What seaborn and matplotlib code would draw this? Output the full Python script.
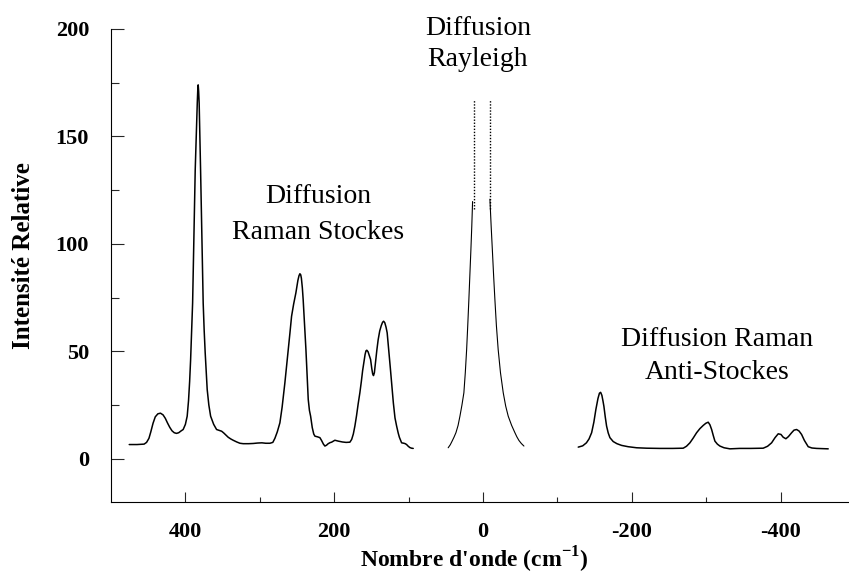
import matplotlib
matplotlib.use("Agg")
import matplotlib.pyplot as plt
import seaborn as sns
import pandas as pd
from matplotlib.ticker import FixedLocator

# ---------------- data ----------------
stokes_x = [475.5, 465.0, 455.5, 452.2, 449.0, 446.5, 443.5, 440.5, 437.0, 433.5,
            430.0, 427.0, 424.0, 421.0, 418.0, 415.0, 412.0, 409.0, 406.0, 403.0,
            400.0, 397.6, 395.8, 394.3, 393.0, 391.6, 390.3, 389.4, 388.6, 387.7,
            386.8, 385.8, 384.9, 384.0, 383.2, 382.8, 382.2, 381.5, 380.5, 379.6,
            378.7, 377.8, 377.0, 376.1, 374.8, 373.4, 372.0, 370.7, 368.5, 366.1,
            362.0, 358.1, 354.5, 351.3, 348.5, 345.5, 342.5, 339.0, 335.8, 331.0,
            326.7, 322.3, 315.0, 308.9, 303.0, 297.2, 292.0, 286.4, 282.5, 279.7,
            276.5, 273.0, 270.0, 266.3, 264.0, 261.8, 259.5, 257.3, 254.5, 251.5,
            248.8, 247.3, 246.1, 245.0, 244.1, 242.8, 241.7, 239.8, 238.0, 236.4,
            234.9, 233.3, 231.7, 229.5, 227.5, 225.9, 222.5, 219.2, 217.0, 214.5,
            212.5, 210.3, 208.1, 205.5, 203.5, 199.1, 194.6, 189.0, 184.0, 178.9,
            176.5, 174.3, 172.2, 170.0, 167.8, 165.5, 163.5, 161.8, 160.1, 158.5,
            157.3, 156.2, 154.5, 152.8, 151.1, 149.5, 148.3, 147.2, 146.0, 144.4,
            142.7, 140.9, 138.8, 136.7, 135.0, 133.6, 132.0, 130.3, 128.8, 126.5,
            124.5, 122.8, 120.5, 118.3, 116.1, 114.0, 112.4, 110.5, 109.4, 106.3,
            104.5, 102.7, 100.5, 98.3, 96.0, 93.8]
stokes_y = [6.6, 6.6, 6.8, 7.6, 9.5, 12.5, 16.5, 19.5, 20.9, 21.2,
            20.4, 18.8, 16.6, 14.6, 13.0, 12.1, 11.8, 12.1, 12.9, 13.6,
            16.0, 19.8, 27.0, 36.0, 46.0, 60.0, 72.5, 88.0, 103.5, 119.0,
            134.5, 146.0, 157.7, 166.0, 173.2, 174.0, 171.0, 165.5, 150.0, 134.5,
            119.0, 103.5, 88.0, 72.5, 60.0, 49.3, 40.0, 32.2, 25.0, 19.8,
            16.0, 13.6, 13.2, 12.8, 12.0, 11.0, 10.0, 9.2, 8.6, 7.8,
            7.2, 7.0, 7.0, 7.1, 7.3, 7.4, 7.2, 7.2, 7.6, 9.5,
            12.5, 16.7, 24.0, 35.3, 43.0, 50.8, 58.5, 66.3, 72.0, 77.2,
            83.0, 85.2, 86.1, 85.6, 84.0, 79.5, 74.0, 62.0, 50.8, 39.0,
            27.6, 22.5, 19.8, 14.5, 11.5, 10.5, 10.2, 9.8, 8.5, 6.8,
            5.9, 6.3, 7.0, 7.5, 7.7, 8.6, 8.2, 7.8, 7.6, 7.7,
            9.0, 11.5, 15.2, 20.0, 25.5, 30.7, 36.0, 41.0, 45.0, 48.5,
            50.2, 50.5, 49.8, 48.0, 46.2, 42.0, 39.5, 38.7, 40.0, 45.0,
            50.5, 55.4, 59.5, 62.0, 63.5, 64.0, 63.3, 61.2, 58.6, 50.0,
            42.0, 35.3, 26.0, 19.0, 15.2, 12.0, 10.0, 8.3, 7.4, 7.2,
            7.0, 6.6, 5.8, 5.2, 4.9, 4.8]

rayleigh_left_x = [46.8, 44.0, 41.8, 39.0, 36.4, 33.5, 31.0, 28.3, 25.7, 23.8,
                   22.0, 20.5, 19.0, 17.6, 16.3, 15.1, 14.0]
rayleigh_left_y = [5.1, 6.5, 8.0, 10.0, 12.1, 15.5, 19.8, 25.0, 30.7, 40.0,
                   50.8, 62.0, 74.0, 86.0, 97.0, 108.0, 119.7]
rayleigh_right_x = [-9.3, -11.0, -12.6, -14.3, -16.0, -18.0, -20.4, -23.5, -27.2,
                    -30.5, -33.9, -38.5, -42.9, -45.5, -48.3, -51.5, -55.0]
rayleigh_right_y = [120.8, 108.0, 97.0, 85.0, 74.0, 62.0, 50.8, 40.0, 30.7,
                    24.5, 19.8, 15.5, 12.1, 10.2, 8.5, 7.1, 5.9]
rayleigh_dot_x = [12.2, -9.7]
rayleigh_dot_y = [116.0, 167.0]

anti_x = [-128.0, -134.0, -139.0, -142.5, -146.0, -149.0, -151.7, -154.5, -156.5,
          -158.1, -159.8, -161.3, -162.5, -164.3, -166.1, -168.3, -170.6, -175.0,
          -180.0, -186.3, -195.0, -206.5, -220.0, -237.8, -255.0, -269.1, -273.5,
          -278.1, -282.5, -287.1, -291.5, -296.0, -299.5, -302.7, -305.0, -307.3,
          -309.5, -311.7, -315.0, -318.4, -324.0, -331.9, -345.0, -360.0, -376.6,
          -382.5, -387.9, -392.5, -396.8, -400.5, -403.5, -407.1, -410.5, -414.8,
          -418.0, -421.5, -424.8, -428.2, -432.0, -437.1, -442.0, -448.4, -456.0,
          -464.0]
anti_y = [5.4, 6.0, 7.4, 9.2, 12.1, 17.0, 22.9, 28.0, 30.5,
          30.9, 29.5, 26.8, 24.4, 19.5, 15.2, 12.0, 9.8, 8.0,
          7.0, 6.2, 5.6, 5.1, 4.9, 4.8, 4.8, 4.9, 5.8,
          7.4, 9.6, 12.1, 14.0, 15.5, 16.5, 17.0, 15.8, 13.6,
          10.8, 8.2, 6.8, 5.9, 5.1, 4.6, 4.8, 4.8, 4.9,
          5.8, 7.4, 9.8, 11.6, 11.3, 10.0, 9.3, 10.3, 12.1,
          13.3, 13.6, 12.9, 11.3, 8.5, 5.6, 5.0, 4.8, 4.7,
          4.6]

x_major = [400, 200, 0, -200, -400]
x_minor = [300, 100, -100, -300]
y_major = [0, 50, 100, 150, 200]
y_minor = [25, 75, 125, 175]

labels = ["Diffusion\nRaman Stockes", "Diffusion\nRayleigh", "Diffusion Raman\nAnti-Stockes"]
label_x = [221.9, 6.9, -314.4]
label_y = [127.8, 206.0, 61.5]
label_ls = [1.58, 1.32, 1.43]

# ---------------- style ----------------
sns.set_theme(style="ticks")
plt.rcParams['font.family'] = ['Liberation Serif', 'DejaVu Serif']
plt.rcParams['axes.unicode_minus'] = False
plt.rcParams['mathtext.fontset'] = 'custom'
plt.rcParams['mathtext.rm'] = 'Liberation Serif'
plt.rcParams['mathtext.bf'] = 'Liberation Serif:bold'

fig = plt.figure(figsize=(8.49, 5.77), dpi=100)
ax = fig.add_axes([111 / 849, 1 - 501.7 / 577, 744 / 849, (501.7 - 29) / 577])

df_s = pd.DataFrame({"x": stokes_x, "y": stokes_y})
df_a = pd.DataFrame({"x": anti_x, "y": anti_y})
df_rl = pd.DataFrame({"x": rayleigh_left_x, "y": rayleigh_left_y})
df_rr = pd.DataFrame({"x": rayleigh_right_x, "y": rayleigh_right_y})

sns.lineplot(data=df_s, x="x", y="y", sort=False, estimator=None, color="black", lw=1.1, ax=ax)
sns.lineplot(data=df_a, x="x", y="y", sort=False, estimator=None, color="black", lw=1.1, ax=ax)
sns.lineplot(data=df_rl, x="x", y="y", sort=False, estimator=None, color="black", lw=0.8, ax=ax)
sns.lineplot(data=df_rr, x="x", y="y", sort=False, estimator=None, color="black", lw=0.8, ax=ax)
ax.vlines(rayleigh_dot_x, rayleigh_dot_y[0], rayleigh_dot_y[1], colors="black",
          linestyles=(0, (1, 1.2)), lw=1.0)

ax.set_xlim(500, -500)
ax.set_ylim(-20, 200)

ax.xaxis.set_major_locator(FixedLocator(x_major))
ax.xaxis.set_minor_locator(FixedLocator(x_minor))
ax.yaxis.set_major_locator(FixedLocator(y_major))
ax.yaxis.set_minor_locator(FixedLocator(y_minor))

ax.tick_params(axis="y", which="major", direction="in", length=9.4, width=0.8, pad=15.8)
ax.tick_params(axis="y", which="minor", direction="in", length=5.8, width=0.8)
ax.tick_params(axis="x", which="major", direction="in", length=7.2, width=0.8, pad=14.4)
ax.tick_params(axis="x", which="minor", direction="in", length=3.6, width=0.8)
for lab in ax.get_xticklabels() + ax.get_yticklabels():
    lab.set_fontsize(16)
    lab.set_fontweight("bold")
    lab.set_color("black")

sns.despine(ax=ax)
for sp in ("left", "bottom"):
    ax.spines[sp].set_linewidth(0.8)
    ax.spines[sp].set_color("black")

ax.set_ylabel("Intensité Relative", fontsize=18, fontweight="bold", color="black", va="center")
ax.yaxis.set_label_coords((23 - 111) / 744, (501.7 - 256) / 472.7)
ax.set_xlabel(r"Nombre d'onde (cm$^{\mathbf{-1}}$)", fontsize=17, fontweight="bold",
              color="black", va="center")
ax.xaxis.set_label_coords((474 - 111) / 744, (501.7 - 560) / 472.7)

for t, xx, yy, ls in zip(labels, label_x, label_y, label_ls):
    ax.text(xx, yy, t, fontsize=20, ha="center", va="top", linespacing=ls,
            multialignment="center", color="black")

fig.savefig("out.png", dpi=100)
